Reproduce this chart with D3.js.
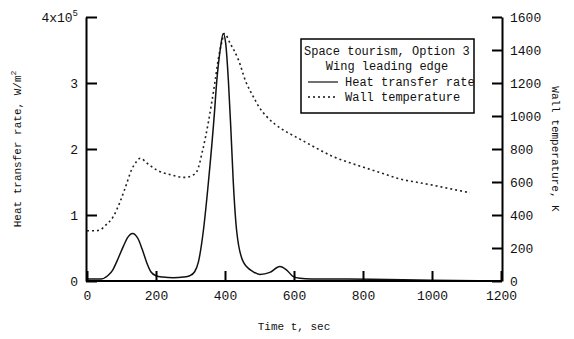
<!DOCTYPE html>
<html lang="en">
<head>
<meta charset="utf-8">
<script src="https://d3js.org/d3.v7.min.js"></script>
<style>
  body { margin: 0; background: #fff; }
  svg text { font-family: "Liberation Mono", "DejaVu Sans Mono", monospace; fill: #111; }
  .axis path, .axis line { stroke: #000; stroke-width: 2px; }
</style>
</head>
<body>
<div id="chart"></div>
<script>
// heat transfer rate, units of 1e5 W/m^2
var heatTime = [0, 20, 40, 60, 75, 86, 105, 118, 132, 148, 160, 173, 185, 200, 220, 250, 280, 298, 312, 323, 337, 352, 369, 376, 386, 395, 402, 410, 417, 424, 434, 453, 482, 501, 530, 559, 578, 597, 617, 650, 750, 916, 1000, 1200];
var heatRate = [0.03, 0.03, 0.03, 0.08, 0.17, 0.29, 0.52, 0.66, 0.72, 0.64, 0.48, 0.28, 0.14, 0.08, 0.06, 0.05, 0.06, 0.08, 0.14, 0.29, 0.75, 1.5, 2.52, 3.02, 3.5, 3.75, 3.6, 3.02, 2.3, 1.5, 0.75, 0.29, 0.14, 0.1, 0.13, 0.22, 0.17, 0.07, 0.04, 0.03, 0.03, 0.02, 0.01, 0.0];

// wall temperature, K
var wallTime = [0, 25, 40, 55, 76, 96, 110, 129, 142, 154, 175, 202, 240, 284, 305, 318, 335, 352, 371, 381, 391, 398, 415, 439, 460, 482, 500, 521, 545, 569, 590, 617, 666, 714, 760, 811, 860, 907, 960, 1004, 1060, 1110];
var wallTemp = [305, 305, 312, 340, 390, 481, 560, 673, 720, 744, 712, 673, 645, 628, 640, 662, 790, 965, 1208, 1350, 1450, 1500, 1440, 1340, 1210, 1117, 1050, 996, 950, 915, 890, 860, 804, 753, 718, 683, 650, 618, 597, 580, 556, 535];

var timeTicks = [0, 200, 400, 600, 800, 1000, 1200];
var heatTicks = [0, 1, 2, 3, 4];
var tempTicks = [0, 200, 400, 600, 800, 1000, 1200, 1400, 1600];

var legendTitle = ["Space tourism, Option 3", "Wing leading edge"];
var legendNames = ["Heat transfer rate", "Wall temperature"];

var width = 574, height = 339;
var plotLeft = 86, plotRight = 502, plotTop = 17, plotBottom = 281;

var x = d3.scaleLinear().domain([0, 1200]).range([plotLeft + 1, plotRight - 1]);
var yq = d3.scaleLinear().domain([0, 4]).range([plotBottom, plotTop]);
var yT = d3.scaleLinear().domain([0, 1600]).range([plotBottom, plotTop]);

var svg = d3.select("#chart").append("svg")
  .attr("width", width)
  .attr("height", height);

/* curves */
var heatLine = d3.line()
  .x(function(d, i) { return x(heatTime[i]); })
  .y(function(d) { return yq(d); })
  .curve(d3.curveMonotoneX);

var wallLine = d3.line()
  .x(function(d, i) { return x(wallTime[i]); })
  .y(function(d) { return yT(d); })
  .curve(d3.curveMonotoneX);

svg.append("path")
  .attr("d", wallLine(wallTemp))
  .attr("fill", "none")
  .attr("stroke", "#222")
  .attr("stroke-width", 1.6)
  .attr("stroke-dasharray", "2,3");

svg.append("path")
  .attr("d", heatLine(heatRate))
  .attr("fill", "none")
  .attr("stroke", "#111")
  .attr("stroke-width", 1.5);

/* axes */
var xAxis = d3.axisBottom(x).tickValues(timeTicks).tickSize(-10).tickSizeOuter(0).tickPadding(10)
  .tickFormat(d3.format("d"));
var gx = svg.append("g")
  .attr("class", "axis")
  .attr("transform", "translate(0," + plotBottom + ")")
  .call(xAxis);
gx.select(".domain").attr("d", "M" + plotLeft + ",0H" + plotRight);
gx.selectAll("text").style("font-size", "13px");

var yAxisL = d3.axisLeft(yq).tickValues(heatTicks).tickSize(-11).tickSizeOuter(0).tickPadding(8)
  .tickFormat(function(d) { return d === 4 ? "" : d; });
var gl = svg.append("g")
  .attr("class", "axis")
  .attr("transform", "translate(" + plotLeft + ",0)")
  .call(yAxisL);
gl.selectAll("text").style("font-size", "13px");
gl.selectAll(".tick").filter(function(d) { return d === 4; }).select("text")
  .call(function(t) {
    t.append("tspan").text("4x10");
    t.append("tspan").attr("dy", "-6").style("font-size", "9px").text("5");
  });

var yAxisR = d3.axisRight(yT).tickValues(tempTicks).tickSize(-10).tickSizeOuter(0).tickPadding(8)
  .tickFormat(d3.format("d"));
var gr = svg.append("g")
  .attr("class", "axis")
  .attr("transform", "translate(" + plotRight + ",0)")
  .call(yAxisR);
gr.selectAll("text").style("font-size", "13px");

/* axis titles */
svg.append("text")
  .attr("x", (plotLeft + plotRight) / 2)
  .attr("y", 330)
  .attr("text-anchor", "middle")
  .style("font-size", "11px")
  .text("Time t, sec");

var lt = svg.append("text")
  .attr("transform", "translate(21," + (plotTop + plotBottom) / 2 + ") rotate(-90)")
  .attr("text-anchor", "middle")
  .style("font-size", "11px");
lt.append("tspan").text("Heat transfer rate, W/m");
lt.append("tspan").attr("dy", "-5").style("font-size", "8px").text("2");

svg.append("text")
  .attr("transform", "translate(552," + (plotTop + plotBottom) / 2 + ") rotate(90)")
  .attr("text-anchor", "middle")
  .style("font-size", "11px")
  .text("Wall temperature, K");

/* legend */
var lg = svg.append("g").attr("transform", "translate(301,39)");
lg.append("rect")
  .attr("width", 173).attr("height", 74)
  .attr("fill", "#fff").attr("stroke", "#000").attr("stroke-width", 1.5);
lg.append("text").attr("x", 3).attr("y", 16).style("font-size", "12px").text(legendTitle[0]);
lg.append("text").attr("x", 86).attr("y", 31).attr("text-anchor", "middle").style("font-size", "12px").text(legendTitle[1]);
legendNames.forEach(function(name, i) {
  var yy = 47 + i * 15;
  lg.append("line")
    .attr("x1", 7).attr("x2", 37).attr("y1", yy - 4).attr("y2", yy - 4)
    .attr("stroke", "#111").attr("stroke-width", i === 0 ? 1.2 : 1.5)
    .attr("stroke-dasharray", i === 0 ? null : "2,3");
  lg.append("text").attr("x", 44).attr("y", yy).style("font-size", "12px").text(name);
});
</script>
</body>
</html>
